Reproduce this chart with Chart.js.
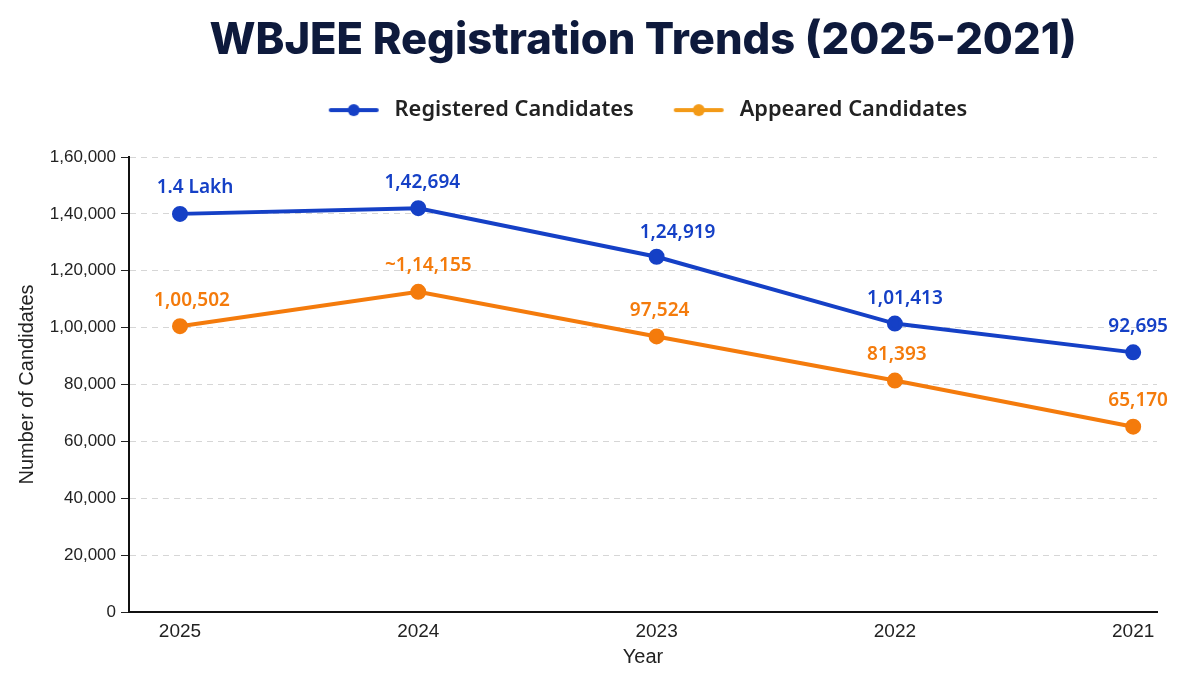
<!DOCTYPE html>
<html>
<head>
<meta charset="utf-8">
<script src="https://cdn.jsdelivr.net/npm/chart.js@4.4.0/dist/chart.umd.min.js"></script>
<style>
  html, body { margin: 0; padding: 0; background: #ffffff; }
  #wrap { width: 1200px; height: 675px; position: relative; }
</style>
</head>
<body>
<div id="wrap"><canvas id="myChart" width="1200" height="675"></canvas></div>
<script>
// chart data
const years = ['2025', '2024', '2023', '2022', '2021'];
const registered = [140000, 142000, 124919, 101413, 91300];
const appeared = [100502, 112600, 96900, 81393, 65170];
const registered_labels = ['1.4 Lakh', '1,42,694', '1,24,919', '1,01,413', '92,695'];
const appeared_labels = ['1,00,502', '~1,14,155', '97,524', '81,393', '65,170'];
const y_ticks = [0, 20000, 40000, 60000, 80000, 100000, 120000, 140000, 160000];

const BLUE = '#1540c6';
const ORANGE = '#f47b0c';
const FONT = "'Noto Sans', 'Open Sans', sans-serif";
const AXIS_FONT = "'Liberation Sans', Arial, sans-serif";

// label nudges (px) so the value texts sit like the original
const label_dx = [[15, 4, 21, 10, 5], [12, 10, 3, 2, 5]];
const label_dy = [[26, 26, 24, 25, 26], [26, 26, 26, 26, 26]];

// indian digit grouping: 1,60,000
function fmt_in(n) {
    let s = String(Math.round(n));
    if (s.length <= 3) return s;
    let last3 = s.slice(-3);
    let rest = s.slice(0, -3);
    rest = rest.replace(/\B(?=(\d{2})+(?!\d))/g, ',');
    return rest + ',' + last3;
}

// legend marker: line with a dot, 10px empty on the left for item spacing
function legend_marker(color) {
    const c = document.createElement('canvas');
    c.width = 65;
    c.height = 16;
    const g = c.getContext('2d');
    g.strokeStyle = color;
    g.lineWidth = 4;
    g.lineCap = 'round';
    g.beginPath();
    g.moveTo(12, 8);
    g.lineTo(58, 8);
    g.stroke();
    g.fillStyle = color;
    g.beginPath();
    g.arc(35, 8, 6, 0, Math.PI * 2);
    g.fill();
    return c;
}
const markers = [legend_marker(BLUE), legend_marker('#f39a17')];

const point_labels = {
    id: 'point_labels',
    afterDatasetsDraw(chart) {
        const ctx = chart.ctx;
        const texts = [registered_labels, appeared_labels];
        ctx.save();
        ctx.font = "600 19px " + FONT;
        ctx.textAlign = 'center';
        ctx.textBaseline = 'middle';
        chart.data.datasets.forEach((ds, i) => {
            const meta = chart.getDatasetMeta(i);
            ctx.fillStyle = ds.borderColor;
            meta.data.forEach((pt, k) => {
                ctx.fillText(texts[i][k], pt.x + label_dx[i][k], pt.y - label_dy[i][k]);
            });
        });
        ctx.restore();
    }
};

const ctx = document.getElementById('myChart');
const data = {
    datasets: [{
        label: 'Registered Candidates',
        data: years.map((y, i) => ({ x: i, y: registered[i] })),
        borderColor: BLUE,
        backgroundColor: BLUE,
        borderWidth: 4,
        pointRadius: 6,
        tension: 0
    }, {
        label: 'Appeared Candidates',
        data: years.map((y, i) => ({ x: i, y: appeared[i] })),
        borderColor: ORANGE,
        backgroundColor: ORANGE,
        borderWidth: 4,
        pointRadius: 6,
        tension: 0
    }]
};

const config = {
    type: 'line',
    data: data,
    plugins: [point_labels],
    options: {
        responsive: false,
        animation: false,
        layout: { padding: { left: 0, right: 43, top: 0, bottom: 0 } },
        scales: {
            x: {
                type: 'linear',
                min: -0.214,
                max: 4.1,
                afterBuildTicks: (s) => { s.ticks = years.map((y, i) => ({ value: i })); },
                afterFit: (s) => { s.height = 63; },
                grid: { display: false, drawTicks: false },
                border: { color: '#111', width: 2 },
                ticks: {
                    padding: 8,
                    color: '#222',
                    font: { family: AXIS_FONT, size: 19 },
                    callback: (v) => years[v]
                },
                title: {
                    display: true,
                    text: 'Year',
                    color: '#222',
                    font: { family: AXIS_FONT, size: 20 },
                    padding: { top: 0, bottom: 6 }
                }
            },
            y: {
                min: 0,
                max: 160000,
                afterBuildTicks: (s) => { s.ticks = y_ticks.map(v => ({ value: v })); },
                afterFit: (s) => { s.width = 129; },
                grid: {
                    color: '#d6d6d6',
                    tickColor: '#222',
                    tickBorderDash: [],
                    tickLength: 8,
                    lineWidth: 1
                },
                border: { color: '#111', width: 2, dash: [6, 5] },
                ticks: {
                    padding: 5,
                    color: '#222',
                    font: { family: AXIS_FONT, size: 17 },
                    callback: (v) => fmt_in(v)
                },
                title: {
                    display: true,
                    text: 'Number of Candidates',
                    color: '#222',
                    font: { family: AXIS_FONT, size: 20 },
                    padding: { top: 15, bottom: 0 }
                }
            }
        },
        plugins: {
            title: {
                display: true,
                fullSize: false,
                text: 'WBJEE Registration Trends (2025-2021)',
                color: '#0e1a3c',
                font: { family: "Inter, 'Noto Sans', sans-serif", size: 43.5, weight: '800' },
                padding: { top: 15, bottom: 2 }
            },
            legend: {
                display: true,
                fullSize: false,
                labels: {
                    usePointStyle: true,
                    pointStyleWidth: 65,
                    padding: 30,
                    color: '#222',
                    font: { family: FONT, size: 21.8, weight: '600' },
                    generateLabels: (chart) => chart.data.datasets.map((ds, i) => ({
                        text: ds.label,
                        pointStyle: markers[i],
                        fillStyle: ds.borderColor,
                        strokeStyle: ds.borderColor,
                        lineWidth: 0,
                        fontColor: '#222',
                        datasetIndex: i,
                        hidden: false
                    }))
                }
            },
            tooltip: { enabled: false }
        }
    }
};

chart = new Chart(ctx, config);

// leave a gap between the legend and the plot area
const legend_fit = chart.legend.fit;
chart.legend.fit = function () {
    legend_fit.call(this);
    this.height = 157 - this.top;
};
chart.update();
</script>
</body>
</html>
